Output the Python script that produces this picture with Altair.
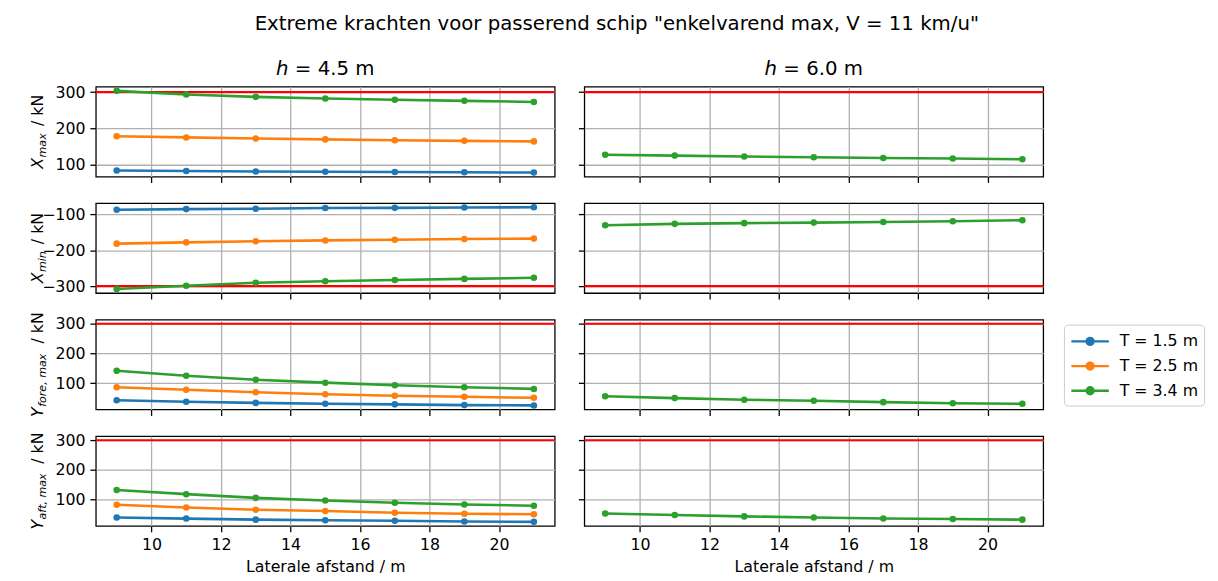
import altair as alt
import pandas as pd

# ---------------- data ----------------
x_dist = [9, 11, 13, 15, 17, 19, 21]
T_labels = ["T = 1.5 m", "T = 2.5 m", "T = 3.4 m"]
T_colors = ["#1f77b4", "#ff7f0e", "#2ca02c"]
h_titles = ["\u210e = 4.5 m", "\u210e = 6.0 m"]
quantities = ["Xmax", "Xmin", "Yfore", "Yaft"]
limits = [300, -300, 300, 300]
y_ticks = [[100, 200, 300], [-300, -200, -100], [100, 200, 300], [100, 200, 300]]
x_ticks = [10, 12, 14, 16, 18, 20]

# h = 4.5 m
xmax_45_T15 = [83.5, 82, 81, 80, 79.5, 78.5, 78]
xmax_45_T25 = [178, 175, 172, 169.5, 167, 165.5, 164]
xmax_45_T34 = [303.6, 293.5, 287, 282.5, 279, 276, 273]
xmin_45_T15 = [-88, -86, -85, -83, -82.5, -81.5, -81]
xmin_45_T25 = [-182, -178.5, -175.5, -173, -171, -169, -168]
xmin_45_T34 = [-308, -299, -291, -286.5, -283, -280, -277]
yfore_45_T15 = [43, 38, 34, 31, 29, 26.5, 25.5]
yfore_45_T25 = [86.5, 78, 70, 63, 58, 54.5, 51]
yfore_45_T34 = [142, 125.5, 112, 102, 93, 86.5, 81]
yaft_45_T15 = [39, 35.5, 32, 30, 28, 25.5, 24.5]
yaft_45_T25 = [82, 73, 65.5, 61, 55.5, 52, 50]
yaft_45_T34 = [132, 118, 105.5, 96.5, 89, 83, 79]
# h = 6.0 m (only T = 3.4 m)
xmax_60_T34 = [127, 124.7, 122, 120, 118, 116.5, 114.6]
xmin_60_T34 = [-131, -127, -125, -123.5, -122, -119.5, -117]
yfore_60_T34 = [56.5, 50, 44.5, 41, 36.5, 33, 31]
yaft_60_T34 = [53, 47.5, 43, 39.5, 36, 34, 32]

series = {
    ("Xmax", 0): [xmax_45_T15, xmax_45_T25, xmax_45_T34],
    ("Xmin", 0): [xmin_45_T15, xmin_45_T25, xmin_45_T34],
    ("Yfore", 0): [yfore_45_T15, yfore_45_T25, yfore_45_T34],
    ("Yaft", 0): [yaft_45_T15, yaft_45_T25, yaft_45_T34],
    ("Xmax", 1): [None, None, xmax_60_T34],
    ("Xmin", 1): [None, None, xmin_60_T34],
    ("Yfore", 1): [None, None, yfore_60_T34],
    ("Yaft", 1): [None, None, yaft_60_T34],
}

# y-label pieces: (text, fontsize, style, baseline shift, gap after)
ylabels = [
    [("X", 16, "italic", 0, 0.5), ("max", 11.2, "italic", 3.5, 5), ("/ kN", 16, "normal", 0, 0)],
    [("X", 16, "italic", 0, 0.5), ("min", 11.2, "italic", 3.5, 5), ("/ kN", 16, "normal", 0, 0)],
    [("Y", 16, "italic", 0, 0.5), ("fore, max", 11.2, "italic", 3.5, 5), ("/ kN", 16, "normal", 0, 0)],
    [("Y", 16, "italic", 0, 0.5), ("aft, max", 11.2, "italic", 3.5, 5), ("/ kN", 16, "normal", 0, 0)],
]

title_text = 'Extreme krachten voor passerend schip "enkelvarend max, V = 11 km/u"'
xtitle = "Laterale afstand / m"

# ---------------- layout params ----------------
W, H = 465, 91
FONT = "DejaVu Sans"
CW = {"X": 0.685, "Y": 0.611, "m": 0.974, "a": 0.613, "x": 0.592, "i": 0.278,
      "n": 0.634, "f": 0.352, "o": 0.612, "r": 0.411, "e": 0.615, "t": 0.392,
      ",": 0.318, " ": 0.318, "/": 0.337, "k": 0.579, "N": 0.748}


def twidth(s, fs, style):
    w = sum(CW.get(c, 0.6) for c in s) * fs
    return w * (1.1 if style == "italic" and fs < 14 else 1.0)


rows = []
for q, Ts in series.items():
    for ti, vals in enumerate(Ts):
        if vals is None:
            continue
        for xv, v in zip(x_dist, vals):
            rows.append({"q": q[0], "h": q[1], "T": T_labels[ti], "x": xv, "v": v})
df = pd.DataFrame(rows)

xscale = alt.Scale(domain=[8.4, 21.6], nice=False, zero=False)
cscale = alt.Scale(domain=T_labels, range=T_colors)

sym_path = ("M-2,0L2,0M0.37,0A0.37,0.37,0,1,1,-0.37,0"
            "A0.37,0.37,0,1,1,0.37,0Z")
legend = alt.Legend(
    title=None, orient="none", legendX=981, legendY=241,
    symbolType=sym_path, symbolSize=361, symbolStrokeWidth=2.4,
    symbolOffset=9.5, labelOffset=19, labelFont=FONT, labelFontSize=16,
    labelColor="black", rowPadding=5, padding=6, strokeColor="#cccccc",
    cornerRadius=4, fillColor="white", symbolOpacity=1,
)

axis_common = dict(tickColor="black", tickSize=6, tickWidth=1.3, domain=False,
                   gridColor="#b0b0b0", gridWidth=1.3, labelFont=FONT,
                   labelFontSize=16, labelColor="black", labelPadding=5)


def panel(r, c):
    q = quantities[r]
    sub = df[(df.q == q)]
    lo = min(sub.v.min(), limits[r])
    hi = max(sub.v.max(), limits[r])
    pad = 0.05 * (hi - lo)
    yscale = alt.Scale(domain=[lo - pad, hi + pad], nice=False, zero=False)
    d = df[(df.q == q) & (df.h == c)]
    bottom = r == 3
    xaxis = alt.Axis(values=x_ticks, labels=bottom, title=xtitle if bottom else None,
                     titleFont=FONT, titleFontSize=16, titleFontWeight="normal",
                     titleColor="black", titlePadding=6, **axis_common)
    yaxis = alt.Axis(values=y_ticks[r], labels=(c == 0), title=None, **axis_common)

    rule = alt.Chart(pd.DataFrame({"lim": [limits[r]]})).mark_rule(
        color="#ff0000", strokeWidth=2.2).encode(
        y=alt.Y("lim:Q", scale=yscale, axis=yaxis))
    base = alt.Chart(d)
    enc = dict(
        x=alt.X("x:Q", scale=xscale, axis=xaxis),
        y=alt.Y("v:Q", scale=yscale, axis=yaxis),
        color=alt.Color("T:N", scale=cscale, legend=legend),
    )
    line = base.mark_line(strokeWidth=2.6).encode(detail="T:N", **enc)
    pts = base.mark_circle(size=44, opacity=1).encode(**enc)
    layers = [rule, line, pts]

    if c == 0:
        pieces = ylabels[r]
        total = sum(twidth(t, fs, st) + g for t, fs, st, _, g in pieces)
        ypos = H / 2 + total / 2
        for t, fs, st, sh, g in pieces:
            layers.append(
                alt.Chart(pd.DataFrame({"t": [t]})).mark_text(
                    angle=270, align="left", baseline="alphabetic", font=FONT,
                    fontSize=fs, fontStyle=st, color="black").encode(
                    text="t:N", x=alt.value(-54 + sh), y=alt.value(ypos)))
            ypos -= twidth(t, fs, st) + g

    if r == 0:
        layers.append(
            alt.Chart(pd.DataFrame({"t": [h_titles[c]]})).mark_text(
                align="center", baseline="alphabetic", font=FONT, fontSize=20,
                color="black").encode(
                text="t:N", x=alt.value(W / 2), y=alt.value(-12)))

    return alt.layer(*layers).properties(width=W, height=H)


chart = alt.concat(
    *[panel(r, c) for r in range(4) for c in range(2)],
    columns=2, spacing={"row": 27, "column": 30}, bounds="flush",
).resolve_scale(color="shared").properties(
    title=alt.TitleParams(title_text, font=FONT, fontSize=20, fontWeight="normal",
                          color="black", anchor="middle", offset=25),
    padding={"left": 21, "top": 2, "right": 5, "bottom": 5},
    background="white",
).configure_view(stroke="black", strokeWidth=1.3)

chart.save("out.html", embed_options={"renderer": "svg", "actions": False})
